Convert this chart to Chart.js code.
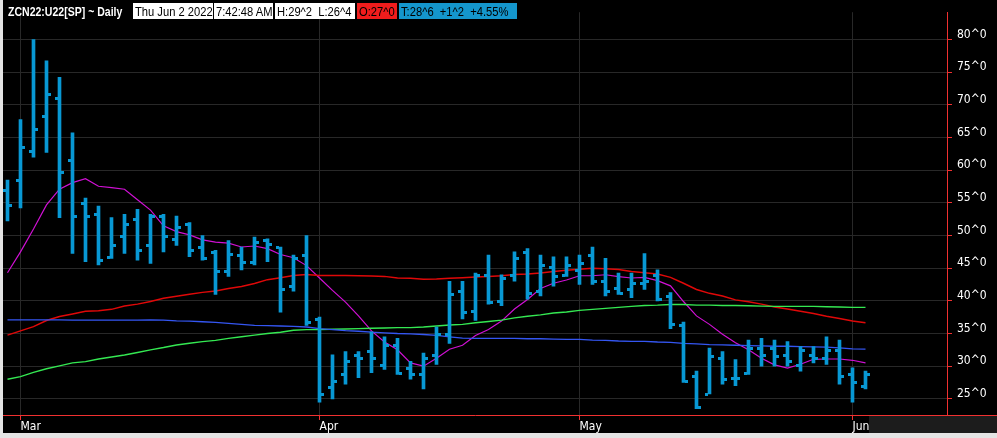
<!DOCTYPE html>
<html>
<head>
    <title>ZCN22:U22 Daily</title>
    <script src="https://cdn.jsdelivr.net/npm/chart.js"></script>
    <style>
        body { margin: 0; width: 997px; height: 438px; background: #e4e4e4; overflow: hidden; position: relative; }
        #frame { position: absolute; left: 3px; top: 0; width: 994px; height: 433px; background: #000; }
        .head { position: absolute; top: 3px; height: 16px; line-height: 17px; font-size: 13px; white-space: pre; overflow: hidden;
                font-family: "Liberation Sans", Arial, sans-serif; color: #000; box-sizing: border-box; padding-left: 2px; }
        .head span { display: inline-block; transform: scaleX(0.86); transform-origin: 0 50%; }
        .head.name { color: #fff; font-weight: bold; overflow: visible; }
        .head.name span { transform: scaleX(0.81); }
    </style>
    <script>
        // one entry per trading day, Feb 28 .. Jun 2 2022
        const opens  = [57.0, 58.5, 63.0, 68.25, 71.0, 61.5, 55.0, 53.25, 46.75, 50.0, 52.5, 48.5, 53.0, 49.5, 51.75, 48.25, 47.5, 44.5, 47.0, 46.0,
                        49.25, 48.25, 42.25, 47.0, 37.25, 26.75, 28.75, 31.75, 32.25, 30.25, 33.25, 29.75, 28.75, 31.75, 35.0, 41.5, 38.5, 44.0, 40.0, 44.0,
                        47.5, 41.5, 45.25, 44.0, 44.75, 47.0, 43.0, 42.0, 41.75, 42.75, 44.0, 40.75, 36.25, 28.5, 25.75, 31.25, 28.25, 29.0, 32.75, 32.75,
                        31.75, 30.25, 31.75, 31.25, 32.5, 28.75, 27.0];
        const highs  = [58.5, 67.75, 80.0, 76.75, 74.25, 65.75, 55.75, 54.5, 52.75, 53.25, 54.0, 53.25, 53.25, 53.0, 52.0, 50.0, 47.75, 49.25, 48.25, 49.75,
                        49.5, 48.25, 47.0, 50.0, 37.5, 31.75, 32.25, 32.25, 35.25, 34.5, 34.25, 30.75, 32.0, 36.0, 43.0, 43.0, 44.25, 47.0, 44.0, 47.5,
                        48.0, 47.0, 46.75, 46.75, 47.0, 48.25, 46.5, 44.25, 44.25, 47.25, 44.75, 41.25, 36.75, 29.25, 32.75, 32.25, 31.0, 34.0, 34.25, 34.0,
                        33.75, 33.0, 33.0, 34.5, 34.0, 29.75, 29.25];
        const lows   = [52.25, 54.25, 62.0, 62.75, 52.75, 47.25, 46.0, 45.5, 46.5, 47.25, 46.25, 45.75, 47.5, 48.5, 46.75, 46.25, 41.0, 43.75, 44.75, 45.5,
                        46.0, 38.25, 41.5, 36.25, 24.5, 25.0, 27.25, 28.25, 29.0, 29.5, 28.75, 28.0, 26.5, 30.25, 33.5, 37.25, 37.0, 39.5, 39.25, 43.0,
                        40.25, 40.75, 42.25, 43.75, 42.5, 42.5, 40.75, 41.0, 40.5, 41.75, 40.0, 35.75, 27.5, 23.5, 25.75, 27.25, 27.0, 28.75, 30.0, 30.0,
                        30.0, 29.25, 30.5, 30.25, 27.25, 24.5, 26.5];
        const closes = [54.75, 63.5, 66.25, 71.75, 59.75, 53.0, 53.0, 46.25, 48.5, 51.75, 47.75, 53.0, 50.0, 51.25, 47.75, 46.5, 44.5, 47.25, 46.0, 49.0,
                        48.75, 41.75, 46.5, 36.75, 25.75, 27.75, 30.75, 31.25, 31.25, 33.25, 29.0, 28.75, 31.25, 35.0, 41.0, 38.25, 44.0, 39.75, 43.5, 46.5,
                        41.25, 45.5, 43.75, 45.5, 45.75, 43.0, 41.5, 41.25, 42.75, 43.0, 40.25, 36.5, 27.75, 23.75, 31.5, 28.0, 28.25, 32.75, 31.75, 31.5,
                        30.75, 32.5, 31.25, 32.5, 28.5, 27.5, 28.75];

        // moving averages as drawn on the chart
        const maMagenta = [44.3, 47.5, 51.0, 54.7, 57.1, 58.1, 58.7, 57.55, 57.35, 57.1, 55.5, 53.9, 51.5, 50.6, 50.1, 49.35, 49.0, 48.85, 48.25, 48.4,
                           48.0, 47.1, 46.6, 45.4, 43.5, 41.6, 39.8, 37.7, 35.4, 33.7, 32.5, 30.5, 30.0, 31.2, 32.6, 33.2, 34.7, 35.6, 36.9, 38.75,
                           40.2, 41.9, 42.7, 43.2, 43.85, 43.85, 44.0, 43.7, 43.5, 43.6, 43.1, 42.3, 39.9, 37.7, 36.4, 34.9, 33.6, 32.5, 31.2, 30.2,
                           29.7, 30.3, 31.05, 31.1, 31.1, 30.9, 30.5];
        const maRed     = [34.75, 35.4, 36.05, 37.0, 37.6, 38.0, 38.4, 38.5, 38.7, 39.2, 39.5, 39.9, 40.4, 40.7, 41.0, 41.3, 41.5, 41.9, 42.2, 42.65,
                           43.25, 43.55, 43.9, 44.05, 43.9, 43.9, 43.9, 43.85, 43.8, 43.75, 43.5, 43.45, 43.3, 43.35, 43.45, 43.55, 43.65, 43.75, 43.85, 44.05,
                           44.1, 44.25, 44.5, 44.7, 44.85, 45.0, 44.9, 44.8, 44.5, 44.3, 44.1, 43.6, 42.7, 41.75, 41.15, 40.75, 40.15, 39.85, 39.5, 39.05,
                           38.75, 38.4, 38.05, 37.65, 37.3, 36.9, 36.65];
        const maBlue    = [37.1, 37.1, 37.1, 37.1, 37.1, 37.05, 37.05, 37.05, 37.05, 37.05, 37.05, 37.1, 37.05, 36.95, 36.9, 36.8, 36.7, 36.55, 36.4, 36.25,
                           36.2, 36.15, 36.1, 36.0, 35.75, 35.6, 35.45, 35.35, 35.2, 35.1, 35.0, 34.95, 34.85, 34.7, 34.5, 34.3, 34.25, 34.25, 34.25, 34.25,
                           34.2, 34.2, 34.15, 34.1, 34.1, 34.0, 33.95, 33.85, 33.8, 33.8, 33.7, 33.65, 33.5, 33.4, 33.3, 33.25, 33.2, 33.15, 33.1, 33.05,
                           33.05, 33.0, 32.95, 32.9, 32.8, 32.65, 32.6];
        const maGreen   = [28.0, 28.4, 29.05, 29.6, 30.05, 30.5, 30.7, 31.1, 31.4, 31.7, 32.1, 32.5, 32.85, 33.25, 33.5, 33.75, 33.95, 34.25, 34.5, 34.75,
                           35.0, 35.2, 35.5, 35.6, 35.6, 35.65, 35.7, 35.75, 35.8, 35.85, 35.9, 35.9, 36.0, 36.15, 36.3, 36.4, 36.65, 36.85, 37.05, 37.4,
                           37.65, 37.85, 38.15, 38.3, 38.55, 38.7, 38.85, 39.0, 39.15, 39.3, 39.35, 39.45, 39.45, 39.35, 39.35, 39.3, 39.3, 39.25, 39.2, 39.15,
                           39.15, 39.15, 39.15, 39.1, 39.05, 39.0, 39.0];

        const monthTickIndex  = [1, 24, 44, 65];
        const monthTickLabels = ['Mar', 'Apr', 'May', 'Jun'];
        const priceTicks      = [25, 30, 35, 40, 45, 50, 55, 60, 65, 70, 75, 80];
        const priceTickLabels = ['25^0', '30^0', '35^0', '40^0', '45^0', '50^0', '55^0', '60^0', '65^0', '70^0', '75^0', '80^0'];

        const barColor = '#0898d4';
        const axisRed = '#f03030';
        const gridGray = '#282828';
        const tickFont = { family: '"DejaVu Sans Condensed", "Liberation Sans", sans-serif', size: 12 };

        // open / close ticks next to each high-low bar
        const ohlcPlugin = {
            id: 'ohlc',
            beforeDraw(chart) {
                const ctx = chart.ctx;
                ctx.save();
                ctx.fillStyle = '#1c1c1c';
                ctx.fillRect(866, chart.chartArea.bottom + 1, chart.width - 866, chart.height - chart.chartArea.bottom - 1);
                ctx.restore();
            },
            afterDatasetsDraw(chart) {
                const { ctx, scales: { x, y } } = chart;
                ctx.save();
                ctx.fillStyle = barColor;
                opens.forEach((o, i) => {
                    const px = x.getPixelForValue(i);
                    ctx.fillRect(px - 4.5, Math.round(y.getPixelForValue(o)) - 1, 3, 3);
                    ctx.fillRect(px + 1.5, Math.round(y.getPixelForValue(closes[i])) - 1, 3, 3);
                });
                ctx.restore();
            },
            afterDraw(chart) {
                const { ctx, chartArea } = chart;
                ctx.save();
                ctx.strokeStyle = axisRed;
                ctx.lineWidth = 1;
                ctx.beginPath();
                ctx.moveTo(chartArea.right, Math.round(chartArea.bottom) + 0.5);
                ctx.lineTo(chart.width, Math.round(chartArea.bottom) + 0.5);
                ctx.stroke();
                ctx.restore();
            }
        };

        function maLine(values, color, width) {
            return {
                type: 'line',
                data: values.map((v, i) => ({ x: i, y: v })),
                borderColor: color,
                borderWidth: width,
                pointRadius: 0,
                tension: 0,
                order: 2
            };
        }

        function drawChart() {
            const ctx = document.getElementById('priceChart').getContext('2d');
            new Chart(ctx, {
                type: 'bar',
                data: {
                    datasets: [
                        {
                            data: highs.map((h, i) => ({ x: i, y: [lows[i], h] })),
                            backgroundColor: barColor,
                            borderWidth: 0,
                            barThickness: 3,
                            order: 1
                        },
                        maLine(maBlue, '#3456f2', 1.3),
                        maLine(maGreen, '#34e852', 1.4),
                        maLine(maRed, '#e00808', 1.5),
                        maLine(maMagenta, '#d010d4', 1.2)
                    ]
                },
                options: {
                    responsive: false,
                    animation: false,
                    layout: { padding: 0 },
                    plugins: { legend: { display: false }, tooltip: { enabled: false } },
                    scales: {
                        x: {
                            type: 'linear',
                            min: -0.346,
                            max: 72.27,
                            offset: false,
                            afterBuildTicks: s => { s.ticks = monthTickIndex.map(v => ({ value: v })); },
                            afterFit: s => { s.height = 18; },
                            grid: { color: gridGray, offset: false, tickColor: axisRed, tickLength: 5 },
                            border: { color: axisRed, width: 1 },
                            ticks: {
                                color: '#ffffff', font: tickFont, align: 'start', padding: 0,
                                maxRotation: 0, autoSkip: false,
                                callback: v => monthTickLabels[monthTickIndex.indexOf(v)]
                            }
                        },
                        y: {
                            position: 'right',
                            min: 22.52,
                            max: 84.21,
                            afterBuildTicks: s => { s.ticks = priceTicks.map(v => ({ value: v })); },
                            afterFit: s => { s.width = 50; },
                            grid: { color: gridGray, tickColor: axisRed, tickLength: 5 },
                            border: { color: axisRed, width: 1 },
                            ticks: {
                                color: '#ffffff', font: tickFont, padding: 5, labelOffset: -5,
                                callback: v => priceTickLabels[priceTicks.indexOf(v)]
                            }
                        }
                    }
                },
                plugins: [ohlcPlugin]
            });
        }
        document.addEventListener('DOMContentLoaded', drawChart);
    </script>
</head>
<body>
    <div id="frame">
        <canvas id="priceChart" width="994" height="433"></canvas>
    </div>
    <div class="head name" style="left:6px;"><span>ZCN22:U22[SP] ~ Daily</span></div>
    <div class="head" style="left:133px; width:80px; background:#fff;"><span>Thu Jun 2 2022</span></div>
    <div class="head" style="left:214px; width:59px; background:#fff;"><span>7:42:48 AM</span></div>
    <div class="head" style="left:275px; width:80px; background:#fff;"><span>H:29^2  L:26^4</span></div>
    <div class="head" style="left:357px; width:40px; background:#f01c1c;"><span>O:27^0</span></div>
    <div class="head" style="left:399px; width:118px; background:#1496cc;"><span>T:28^6  +1^2  +4.55%</span></div>
</body>
</html>
